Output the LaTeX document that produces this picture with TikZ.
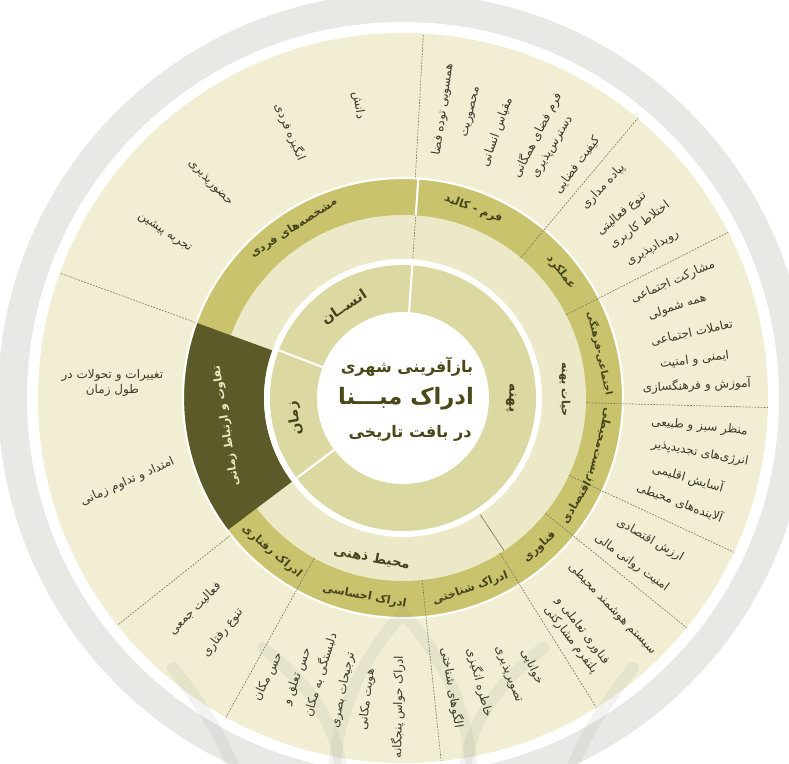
\documentclass[tikz,border=0pt]{standalone}
\usepackage{fontspec}
\newfontfamily\farsi[Script=Arabic]{DejaVu Sans}
\TeXXeTstate=1
\usetikzlibrary{calc}

\definecolor{bggray}{HTML}{E8E8E5}
\definecolor{creamout}{HTML}{F1EED4}
\definecolor{ringb}{HTML}{ECE9C8}
\definecolor{ringa}{HTML}{DCD8A2}
\definecolor{olivering}{HTML}{C8C36C}
\definecolor{darkband}{HTML}{5C5A28}
\definecolor{dashcol}{HTML}{7E7C62}
\definecolor{itemcol}{HTML}{3C3A2A}
\definecolor{labelcol}{HTML}{45431C}
\definecolor{titlecol}{HTML}{4A4718}
\definecolor{darktext}{HTML}{ECE8C4}
\definecolor{markgray}{HTML}{8A8A80}

\newcommand{\fa}[1]{\beginR#1\endR}
\newcommand{\ringsector}[5]{%
  \fill[#5] (#1:#4) arc[start angle=#1, end angle=#2, radius=#4]
    -- (#2:#3) arc[start angle=#2, end angle=#1, radius=#3] -- cycle;}

\tikzset{
  itemtext/.style={text=itemcol, font=\farsi\fontsize{9}{11}\selectfont,
    inner sep=0pt, align=center},
  ringlabel/.style={text=labelcol, font=\farsi\bfseries\fontsize{10.5}{12}\selectfont,
    inner sep=0pt},
  sublabel/.style={text=labelcol, font=\farsi\bfseries\fontsize{8.4}{10}\selectfont,
    inner sep=0pt},
  titletext/.style={text=titlecol, inner sep=0pt},
  sepdash/.style={draw=dashcol, line width=0.5pt, dash pattern=on 1.3pt off 1pt},
  sepwhite/.style={draw=white, line width=1.6pt},
  watermark/.style={draw=markgray, line width=9pt, opacity=0.11, line cap=round}
}

\begin{document}
\begin{tikzpicture}[x=0.75pt, y=0.75pt]
  \useasboundingbox (0,0) rectangle (789,764);
  \clip (0,0) rectangle (789,764);
  \fill[white] (0,0) rectangle (789,764);

  \begin{scope}[shift={(403,366)}]
    % rings
    \fill[bggray] (0,0) circle[radius=405];
    \fill[white] (0,0) circle[radius=376];
    \fill[creamout] (0,0) circle[radius=365];
    \fill[olivering] (0,0) circle[radius=220];
    \fill[ringb] (0,0) circle[radius=183];
    \ringsector{160}{217}{139}{220}{darkband}
    \draw[white, line width=1.6pt] (0,0) circle[radius=220];
    \fill[white] (0,0) circle[radius=139];
    \fill[ringa] (0,0) circle[radius=133];
    \fill[white] (0,0) circle[radius=86];

    % separators
    \foreach \ang in {86,159,217}
      \draw[sepwhite] (\ang:86) -- (\ang:133);
    \draw[sepwhite] (86:183) -- (86:220);
    \draw[sepdash] (86:140) -- (86:183);
    \draw[draw=dashcol, line width=0.5pt] (303.5:140) -- (303.5:183);
    \foreach \ang in {50,27,-1.5,-25,-39,-58,276,241}
      \draw[sepdash] (\ang:183) -- (\ang:365);
    \foreach \ang in {86.8,218.5,160}
      \draw[sepdash] (\ang:221) -- (\ang:365);

    % faint ornament at the bottom
    \draw[watermark] (-70,-400) .. controls (-70,-300) and (-30,-250) .. (0,-215)
      .. controls (30,-250) and (70,-300) .. (70,-400);
    \draw[watermark] (-140,-250) .. controls (-90,-290) and (-60,-330) .. (-60,-400);
    \draw[watermark] (140,-250) .. controls (90,-290) and (60,-330) .. (60,-400);
    \draw[watermark] (-230,-270) .. controls (-190,-320) and (-170,-360) .. (-160,-400);
    \draw[watermark] (230,-270) .. controls (190,-320) and (170,-360) .. (160,-400);

    % centre title
    \node[titletext, font=\farsi\bfseries\fontsize{12}{14}\selectfont] (title1) at (4,31) {\fa{بازآفرینی شهری}};
    \node[titletext, font=\farsi\bfseries\fontsize{17}{20}\selectfont] (title2) at (3,-1) {\fa{ادراک مبـــنا}};
    \node[titletext, font=\farsi\bfseries\fontsize{12}{14}\selectfont] (title3) at (7,-35) {\fa{در بافت تاریخی}};

    % inner ring
    \node[ringlabel, rotate=33] (human) at (123:108) {\fa{انســان}};
    \node[ringlabel, rotate=100.5] (time) at (190.5:110) {\fa{زمان}};
    \node[ringlabel, rotate=-90] (zone) at (0:108) {\fa{پهنه}};

    % middle ring
    \node[sublabel, rotate=-90] (zonelife) at (3:162) {\fa{حیات پهنه}};
    \node[sublabel, rotate=-11, font=\farsi\bfseries\fontsize{10}{12}\selectfont] (mental) at (259:163) {\fa{محیط ذهنی}};
    \node[sublabel, rotate=99, text=darktext] (timediff) at (189:179) {\fa{تفاوت و ارتباط زمانی}};

    % olive ring
    \foreach \ang/\rot/\txt [count=\i] in {
      122.7/32.7/{مشخصه^^^^200cهای فردی},
      69.6/-20.4/{فرم - کالبد},
      38.5/-51.5/{عملکرد},
      -13.5/-103.5/{زیست^^^^200cمحیطی},
      -31/59/{اقتصادی},
      -47.5/42.5/{فناوری},
      229.5/-40.5/{ادراک رفتاری},
      259/-11/{ادراک احساسی},
      289.5/19.5/{ادراک شناختی}}
      \node[sublabel, rotate=\rot] (sub\i) at (\ang:202) {\fa{\txt}};
    \node[sublabel, rotate=-77.2, font=\farsi\bfseries\fontsize{7.4}{9}\selectfont]
      (subsoc) at (12.8:202) {\fa{اجتماعی-فرهنگی}};

    % outer items
    \foreach \ang/\rad/\rot/\txt [count=\i] in {
      98.7/296/-81.3/{دانش},
      113/289/-67/{انگیزه فردی},
      131.9/289/-46/{حضورپذیری},
      145.3/290/-33/{تجربه پیشین}}
      \node[itemtext, rotate=\rot] (hum\i) at (\ang:\rad) {\fa{\txt}};

    \node[itemtext] (tim1) at (177:291) {\fa{تغییرات و تحولات در}\\\fa{طول زمان}};
    \node[itemtext, rotate=24] (tim2) at (196.9:288) {\fa{امتداد و تداوم زمانی}};

    \foreach \ang/\rad/\rot/\txt [count=\i] in {
      225.3/296/45/{فعالیت جمعی},
      232.5/296/52/{تنوع رفتاری}}
      \node[itemtext, rotate=\rot] (beh\i) at (\ang:\rad) {\fa{\txt}};

    \foreach \ang/\rad/\rot/\txt [count=\i] in {
      244.2/310/64/{حس مکان},
      249.2/298/69/{حس تعلق و},
      253.3/289/73/{دلبستگی به مکان},
      258.4/298/78/{ترجیحات بصری},
      263.2/304/83/{هویت مکانی},
      269.1/309/89/{ادراک حواس پنجگانه}}
      \node[itemtext, rotate=\rot] (emo\i) at (\ang:\rad) {\fa{\txt}};

    \foreach \ang/\rad/\rot/\txt [count=\i] in {
      -80.4/294/-80/{الگوهای شناختی},
      -74.9/295/-75/{خاطره انگیزی},
      -69.2/296/-69/{تصویرپذیری},
      -64.4/298/-64/{خوانایی}}
      \node[itemtext, rotate=\rot] (cog\i) at (\ang:\rad) {\fa{\txt}};

    \node[itemtext, rotate=-46] (tec1) at (-45.2:297) {\fa{سیستم هوشمند محیطی}};
    \node[itemtext, rotate=-53] (tec2) at (-53.8:294) {\fa{فناوری تعاملی و}\\\fa{پلتفرم مشارکتی}};

    \foreach \ang/\rad/\rot/\txt [count=\i] in {
      -29.9/285/-30/{ارزش اقتصادی},
      -35.8/282/-36/{امنیت روانی مالی},
      -5.6/298/-5.6/{منظر سبز و طبیعی},
      -10.5/302/-10.5/{انرژی^^^^200cهای تجدیدپذیر},
      -15.7/296/-15.7/{آسایش اقلیمی},
      -20.6/296/-20.6/{آلاینده^^^^200cهای محیطی}}
      \node[itemtext, rotate=\rot] (eco\i) at (\ang:\rad) {\fa{\txt}};

    \foreach \ang/\rad/\txt [count=\i] in {
      23.3/294/{مشارکت اجتماعی},
      18.4/289/{همه شمولی},
      12.7/296/{تعاملات اجتماعی},
      7.4/294/{ایمنی و امنیت},
      2.5/294/{آموزش و فرهنگسازی},
      46.5/291/{پیاده مداری},
      40.1/286/{تنوع فعالیتی},
      36.1/293/{اختلاط کاربری},
      31/291/{رویدادپذیری},
      82.1/291/{همسویی توده فضا},
      76.4/294/{محصوریت},
      70.5/282/{مقیاس انسانی},
      63/295/{فرم فضای همگانی},
      59.1/292/{دسترس^^^^200cپذیری},
      53.3/291/{کیفیت فضایی}}
      \node[itemtext, rotate=\ang] (soc\i) at (\ang:\rad) {\fa{\txt}};
  \end{scope}
\end{tikzpicture}
\end{document}
